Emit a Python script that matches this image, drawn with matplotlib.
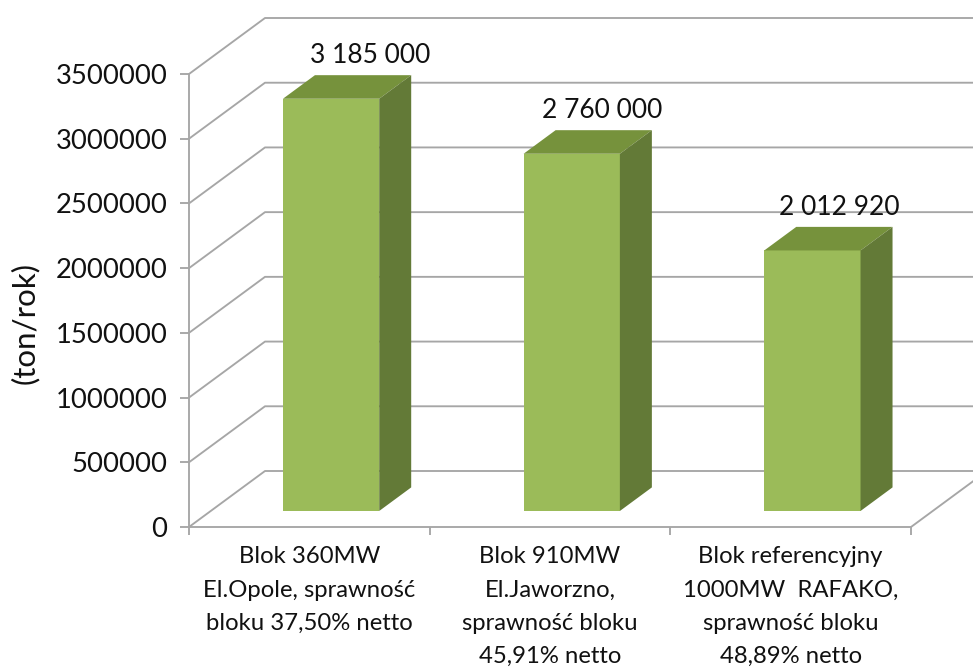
import matplotlib
matplotlib.use('Agg')
import matplotlib.pyplot as plt
from matplotlib.patches import Polygon

# ==============================
# DATA
# ==============================
categories = [
    'Blok 360MW\nEl.Opole, sprawność\nbloku 37,50% netto',
    'Blok 910MW\nEl.Jaworzno,\nsprawność bloku\n45,91% netto',
    'Blok referencyjny\n1000MW  RAFAKO,\nsprawność bloku\n48,89% netto',
]
values = [3185000, 2760000, 2012920]
value_labels = ['3 185 000', '2 760 000', '2 012 920']
y_ticks = [0, 500000, 1000000, 1500000, 2000000, 2500000, 3000000, 3500000]

GRID_COLOR = '#A6A6A6'
FRONT_COLOR = '#9BBB59'
TOP_COLOR = '#76923C'
SIDE_COLOR = '#637A37'
TEXT_COLOR = '#111111'

plt.rcParams['font.family'] = ['Lato', 'DejaVu Sans']

W, H = 973, 671
fig = plt.figure(figsize=(W / 100, H / 100), dpi=100)
# axes box is the front plane of the floor and the y axis
ax = fig.add_axes([189 / W, (H - 527) / H, 722 / W, 453 / H])
ax.set_xlim(0, 3)
ax.set_ylim(0, 3500000)
ax.patch.set_visible(False)

# oblique depth of the chart box, expressed in data units
DEPTH_X = 76 / 722 * 3
DEPTH_Y = 56 / 453 * 3500000
BAR_NEAR = 0.286   # depth of the front face of the bars
BAR_FAR = 0.707    # depth of the back face of the bars
BAR_WIDTH = 0.40

# horizontal shift of each value label, in points
LABEL_SHIFT = [5, -1, -4]


def project(x, y, d):
    return x + d * DEPTH_X, y + d * DEPTH_Y


# --- Walls and floor ---
line_style = dict(color=GRID_COLOR, lw=1.35, clip_on=False, zorder=1)
for v in y_ticks:
    bx, by = project(0, v, 1)
    ax.plot([0, bx, 3 + DEPTH_X], [v, by, by], **line_style)
fx, fy = project(3, 0, 1)
ax.plot([3, fx], [0, fy], **line_style)

# --- Bars: front through the axes, top and side as oblique faces ---
for i, v in enumerate(values):
    x0 = i + 0.5 - BAR_WIDTH / 2 + BAR_NEAR * DEPTH_X
    x1 = x0 + BAR_WIDTH
    base = BAR_NEAR * DEPTH_Y
    top = base + v
    dx = (BAR_FAR - BAR_NEAR) * DEPTH_X
    dy = (BAR_FAR - BAR_NEAR) * DEPTH_Y
    ax.bar(x0, v, width=BAR_WIDTH, bottom=base, align='edge',
           color=FRONT_COLOR, zorder=3, clip_on=False)
    ax.add_patch(Polygon([(x0, top), (x1, top), (x1 + dx, top + dy), (x0 + dx, top + dy)],
                         closed=True, facecolor=TOP_COLOR, edgecolor='none', zorder=3, clip_on=False))
    ax.add_patch(Polygon([(x1, base), (x1 + dx, base + dy), (x1 + dx, top + dy), (x1, top)],
                         closed=True, facecolor=SIDE_COLOR, edgecolor='none', zorder=3, clip_on=False))
    ax.annotate(value_labels[i], xy=(x0 + BAR_WIDTH / 2 + dx, top + dy),
                xytext=(LABEL_SHIFT[i], 14), textcoords='offset points', ha='center', va='center',
                fontsize=19, color=TEXT_COLOR, zorder=4, annotation_clip=False)

# --- Axes styling ---
for side in ['top', 'right']:
    ax.spines[side].set_visible(False)
for side in ['left', 'bottom']:
    ax.spines[side].set_color(GRID_COLOR)
    ax.spines[side].set_linewidth(1.35)

ax.set_yticks(y_ticks)
ax.set_yticklabels([str(v) for v in y_ticks], fontsize=19.7, color=TEXT_COLOR)
ax.tick_params(axis='y', length=6.5, width=1.35, color=GRID_COLOR, pad=9)

ax.set_xticks([0, 1, 2, 3])
ax.set_xticklabels([])
ax.tick_params(axis='x', which='major', length=6, width=1.35, color=GRID_COLOR)
ax.set_xticks([0.5, 1.5, 2.5], minor=True)
ax.set_xticklabels(categories, minor=True, fontsize=17.2, color=TEXT_COLOR, linespacing=1.72, va='top')
ax.tick_params(axis='x', which='minor', length=0, pad=14)

fig.text(25 / W, (H - 323) / H, '(ton/rok)', rotation=90, ha='center', va='center',
         fontsize=22.5, color=TEXT_COLOR)

plt.savefig('out.png', dpi=100)
plt.close(fig)
